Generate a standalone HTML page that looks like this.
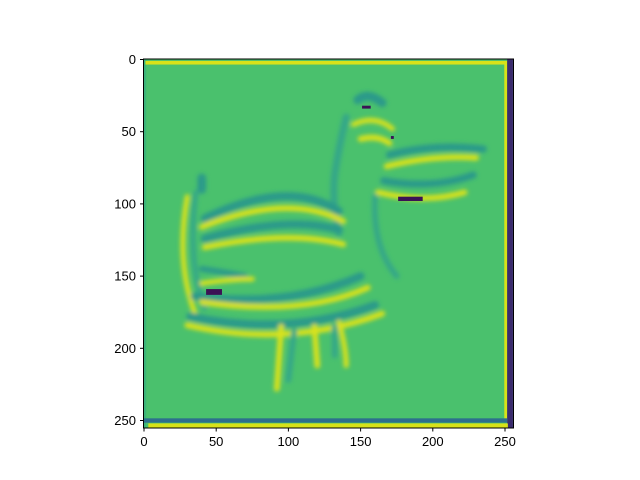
<!DOCTYPE html>
<html><head><meta charset="utf-8"><style>
body{margin:0;background:#fff;}
svg{display:block;font-family:"Liberation Sans",sans-serif;}
</style></head><body>
<svg width="640" height="480">
<defs>
<filter id="bl" x="-20%" y="-20%" width="140%" height="140%"><feGaussianBlur stdDeviation="1.4"/></filter>
<clipPath id="cp"><rect x="-0.5" y="-0.5" width="256" height="256"/></clipPath>
</defs>
<g id="img" transform="translate(144.0,59.5) scale(1.444)" clip-path="url(#cp)">
<rect x="-0.5" y="-0.5" width="256" height="256" fill="#4ac16d"/>
<rect x="-0.5" y="-0.5" width="2" height="256" fill="#3cb47a"/>
<rect x="1" y="1" width="250" height="2.5" fill="#d8e219"/>
<rect x="249.5" y="1" width="2" height="250" fill="#d8e219"/>
<rect x="251.5" y="-0.5" width="4.5" height="256" fill="#3b2b6e"/>
<rect x="-0.5" y="248.5" width="252" height="3" fill="#2d6f8e"/>
<rect x="3" y="252" width="249" height="3" fill="#d8e219"/>
<g id="duck" filter="url(#bl)" fill="none" stroke-linecap="round"></g>
<g id="dark" fill="#3b1255"></g>
</g>
<rect x="143.5" y="59" width="370" height="369" fill="none" stroke="#000" stroke-width="1"/>
<g id="ticks"></g>
<script>
const xTicks=[0,50,100,150,200,250];
const yTicks=[0,50,100,150,200,250];
const Y='#d9e21a', T='#2a9a8a', T2='#35a788';
// duck stroke paths in image-pixel coordinates: [path, color, width]
const strokes=[
["M148 28 Q155 22 165 30",T,6],
["M140 40 Q135 60 132 80 Q130 100 135 120",T2,5],
["M145 45 Q160 38 172 48",Y,3.5],
["M150 55 Q162 52 170 58",Y,4],
["M170 66 Q200 58 235 62",T,5],
["M168 74 Q200 66 230 68",Y,4],
["M166 84 Q200 90 228 80",T,5],
["M162 92 Q195 100 222 92",Y,4],
["M160 95 Q158 130 175 150",T2,4],
["M42 110 Q100 82 135 105",T,5.5],
["M40 116 Q100 92 138 112",Y,4],
["M42 124 Q100 108 135 118",T,5.5],
["M42 130 Q100 118 138 128",Y,4],
["M40 82 L40 90",T,6],
["M30 95 Q22 140 35 175",Y,3.5],
["M36 92 Q30 140 42 172",T2,3.5],
["M40 145 Q60 148 70 150",T,4],
["M40 155 Q60 152 75 152",Y,3.5],
["M35 164 Q100 172 150 150",T,5.5],
["M40 168 Q110 178 155 158",Y,4],
["M32 178 Q100 192 160 170",T,5.5],
["M30 184 Q100 200 165 176",Y,4],
["M95 185 L92 228",Y,4],
["M104 188 L100 222",T2,4],
["M118 185 L120 212",Y,4],
["M135 182 Q140 200 140 212",Y,3.5],
["M132 185 L132 205",T2,4]
];
// dark spots: [x, y, w, h]
const darkSpots=[[151,32,6,2],[176,95,17,3],[43,159,11,4],[171,53,2,2]];
const duck=document.getElementById('duck');
const NS='http://www.w3.org/2000/svg';
strokes.forEach(s=>{const p=document.createElementNS(NS,'path');p.setAttribute('d',s[0]);p.setAttribute('stroke',s[1]);p.setAttribute('stroke-width',s[2]);


duck.appendChild(p);});
const dk=document.getElementById('dark');
darkSpots.forEach(d=>{const r=document.createElementNS(NS,'rect');r.setAttribute('x',d[0]);r.setAttribute('y',d[1]);r.setAttribute('width',d[2]);r.setAttribute('height',d[3]);


dk.appendChild(r);});
const sx=v=>144.0+v*1.444, sy=v=>59.5+v*1.444;
const tg=document.getElementById('ticks');
xTicks.forEach(v=>{const x=sx(v);
const l=document.createElementNS(NS,'line');l.setAttribute('x1',x);l.setAttribute('x2',x);l.setAttribute('y1',428);l.setAttribute('y2',431.5);l.setAttribute('stroke','#000');


tg.appendChild(l);
const t=document.createElementNS(NS,'text');t.setAttribute('x',x);t.setAttribute('y',446);t.setAttribute('text-anchor','middle');t.setAttribute('font-size','13');t.textContent=v;


tg.appendChild(t);});
yTicks.forEach(v=>{const y=sy(v);
const l=document.createElementNS(NS,'line');l.setAttribute('x1',140);l.setAttribute('x2',143.5);l.setAttribute('y1',y);l.setAttribute('y2',y);l.setAttribute('stroke','#000');


tg.appendChild(l);
const t=document.createElementNS(NS,'text');t.setAttribute('x',136);t.setAttribute('y',y+4.5);t.setAttribute('text-anchor','end');t.setAttribute('font-size','13');t.textContent=v;


tg.appendChild(t);});
</script>
</svg>
</body></html>
